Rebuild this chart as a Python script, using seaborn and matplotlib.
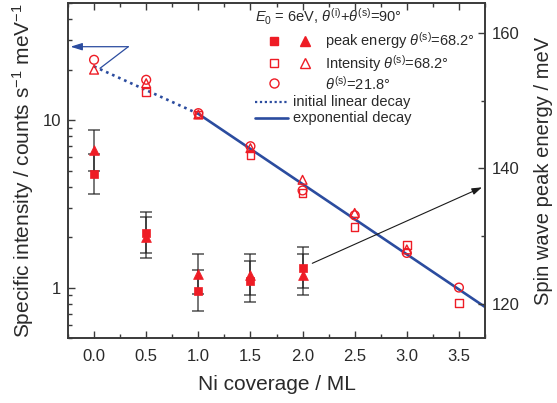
import numpy as np
import pandas as pd
import matplotlib
matplotlib.use("Agg")
import matplotlib.pyplot as plt
from matplotlib.lines import Line2D
import seaborn as sns

# ---- data ---------------------------------------------------------------
coverage = [0.0, 0.5, 1.0, 1.5, 2.0, 2.5, 3.0, 3.5]

# specific intensity (counts s^-1 meV^-1), theta_s = 68.2 deg
intensity_square = [np.nan, 14.7, 10.8, 6.2, 3.68, 2.30, 1.80, 0.81]
intensity_triangle = [20.0, 16.6, 10.8, 6.8, 4.4, 2.79, 1.69, np.nan]
# specific intensity, theta_s = 21.8 deg
intensity_circle = [22.9, 17.4, 11.0, 6.98, 3.8, 2.70, 1.61, 1.0]

# spin wave peak energy (meV), theta_s = 68.2 deg
peak_coverage = [0.0, 0.5, 1.0, 1.5, 2.0]
peak_square = [139.2, 130.5, 121.9, 123.3, 125.3]
peak_triangle = [142.7, 129.8, 124.4, 124.3, 124.3]
peak_error = [3.0, 3.0, 3.0, 3.0, 3.0]

# decay fits
linear_x = [0.0, 1.0]
linear_y = [20.9, 10.9]
expo_x = [1.0, 3.75]
expo_y = [10.9, 0.766]

x_ticks = [0.0, 0.5, 1.0, 1.5, 2.0, 2.5, 3.0, 3.5]
right_ticks = [120, 140, 160]

# ---- style --------------------------------------------------------------
sns.set_style("ticks")
plt.rcParams["font.family"] = ["Liberation Sans", "DejaVu Sans"]
plt.rcParams["mathtext.fontset"] = "custom"
plt.rcParams["mathtext.rm"] = "Liberation Sans"
plt.rcParams["mathtext.it"] = "Liberation Sans:italic"
plt.rcParams["mathtext.bf"] = "Liberation Sans:bold"

RED = "#ee1c25"
BLUE = "#2b4c9f"
INK = "#2a2a2a"
W, H = 557, 403

def fx(px):
    return px / W

def fy(py):
    return 1 - py / H

fig = plt.figure(figsize=(W / 100, H / 100), dpi=100)
ax = fig.add_axes([fx(68), fy(338), fx(485) - fx(68), fy(3) - fy(338)])
ax2 = ax.twinx()

# ---- intensity (left, log axis) ----------------------------------------
sns.lineplot(x=linear_x, y=linear_y, ax=ax, color=BLUE, lw=1.9,
             linestyle=(0, (1, 1.5)), zorder=2)
sns.lineplot(x=expo_x, y=expo_y, ax=ax, color=BLUE, lw=1.9, zorder=2)

for vals, mk, sz in [(intensity_square, "s", 30), (intensity_triangle, "^", 40),
                     (intensity_circle, "o", 40)]:
    df = pd.DataFrame({"x": coverage, "y": vals}).dropna()
    sns.scatterplot(data=df, x="x", y="y", ax=ax, marker=mk, s=sz,
                    facecolors="none", edgecolors=RED, linewidths=1.0,
                    zorder=3)

ax.set_yscale("log")
ax.set_xlim(-0.25, 3.75)
ax.set_ylim(0.5, 50)
ax.set_xticks(x_ticks)
ax.set_xticklabels([f"{v:.1f}" for v in x_ticks])
ax.xaxis.set_minor_locator(matplotlib.ticker.MultipleLocator(0.25))
ax.set_yticks([1, 10])
ax.set_yticklabels(["1", "10"])
ax.yaxis.set_minor_locator(matplotlib.ticker.LogLocator(base=10, subs=np.arange(2, 10)))
ax.yaxis.set_minor_formatter(matplotlib.ticker.NullFormatter())

ax.set_xlabel("Ni coverage / ML", fontsize=15, color=INK, labelpad=8)
ax.set_ylabel(r"Specific intensity / counts s$^{-1}$ meV$^{-1}$", fontsize=15,
              color=INK, labelpad=5)

# ---- peak energy (right axis) ------------------------------------------
for vals in (peak_triangle, peak_square):
    ax2.errorbar(peak_coverage, vals, yerr=peak_error, fmt="none",
                 ecolor="#1e1e1e", alpha=0.7, elinewidth=1.2, capsize=4,
                 capthick=1.2, zorder=2)
sns.scatterplot(x=peak_coverage, y=peak_square, ax=ax2, marker="s", s=38,
                color=RED, edgecolor=RED, linewidth=0.5, zorder=4)
sns.scatterplot(x=peak_coverage, y=peak_triangle, ax=ax2, marker="^", s=50,
                color=RED, edgecolor=RED, linewidth=0.5, zorder=4)
ax2.set_ylim(114.9, 164.5)
ax2.set_yticks(right_ticks)
ax2.yaxis.set_minor_locator(matplotlib.ticker.MultipleLocator(10))
ax2.set_ylabel("Spin wave peak energy / meV", fontsize=14.5, color=INK,
               labelpad=10)

for a in (ax, ax2):
    for s in a.spines.values():
        s.set_color("#3a3a3a")
        s.set_linewidth(1.2)
    a.tick_params(which="both", direction="in", color="#3a3a3a", width=1.0,
                  labelsize=12, labelcolor=INK)
    a.tick_params(which="major", length=5)
    a.tick_params(which="minor", length=3)
ax.tick_params(which="both", top=True, right=False)
ax.tick_params(axis="x", pad=8)
ax.tick_params(axis="y", pad=5)
ax2.tick_params(axis="y", pad=5)

# ---- annotation arrows ---------------------------------------------------
fig.add_artist(Line2D([fx(100), fx(128.3)], [fy(68.3), fy(46.7)],
                      color=BLUE, lw=0.9))
ax.annotate("", xy=(fx(70.5), fy(46.7)), xytext=(fx(128.3), fy(46.7)),
            xycoords="figure fraction", textcoords="figure fraction",
            arrowprops=dict(arrowstyle="-|>,head_length=0.7,head_width=0.22",
                            color=BLUE, lw=0.9, shrinkA=0, shrinkB=0))
ax.annotate("", xy=(fx(482), fy(187.3)), xytext=(fx(312.3), fy(263.3)),
            xycoords="figure fraction", textcoords="figure fraction",
            arrowprops=dict(arrowstyle="-|>,head_length=0.6,head_width=0.2",
                            color="#1a1a1a", lw=0.8, shrinkA=0, shrinkB=0))

# ---- key ---------------------------------------------------------------
key_fs = 10.5
fig.text(fx(255), fy(17), r"$E_{\mathit{0}}$ = 6eV, $\theta^{\rm (i)}$+$\theta^{\rm (s)}$=90°",
         fontsize=key_fs, color=INK, va="center", ha="left")
rows = [
    (40.7, dict(marker="s", color=RED, markersize=6, linestyle="none"),
     dict(marker="^", color=RED, markersize=7, linestyle="none"),
     r"peak energy $\theta^{\rm (s)}$=68.2°"),
    (63.3, dict(marker="s", markerfacecolor="none", markeredgecolor=RED,
                markersize=6, linestyle="none", markeredgewidth=1.0),
     dict(marker="^", markerfacecolor="none", markeredgecolor=RED,
          markersize=7, linestyle="none", markeredgewidth=1.0),
     r"Intensity $\theta^{\rm (s)}$=68.2°"),
    (83.3, dict(marker="o", markerfacecolor="none", markeredgecolor=RED,
                markersize=6.5, linestyle="none", markeredgewidth=1.0),
     None, r"$\theta^{\rm (s)}$=21.8°"),
]
for yy, m1, m2, label in rows:
    fig.add_artist(Line2D([fx(274)], [fy(yy)], **m1))
    if m2 is not None:
        fig.add_artist(Line2D([fx(305)], [fy(yy)], **m2))
    fig.text(fx(325), fy(yy), label, fontsize=key_fs, color=INK,
             va="center", ha="left")

fig.add_artist(Line2D([fx(255), fx(288)], [fy(101.7), fy(101.7)], color=BLUE,
                      lw=1.6, linestyle=(0, (1, 1.2))))
fig.text(fx(293), fy(101.7), "initial linear decay", fontsize=key_fs,
         color=INK, va="center", ha="left")
fig.add_artist(Line2D([fx(255), fx(288)], [fy(118.3), fy(118.3)], color=BLUE,
                      lw=1.9))
fig.text(fx(293), fy(118.3), "exponential decay", fontsize=key_fs,
         color=INK, va="center", ha="left")

fig.savefig("out.png", dpi=100)
